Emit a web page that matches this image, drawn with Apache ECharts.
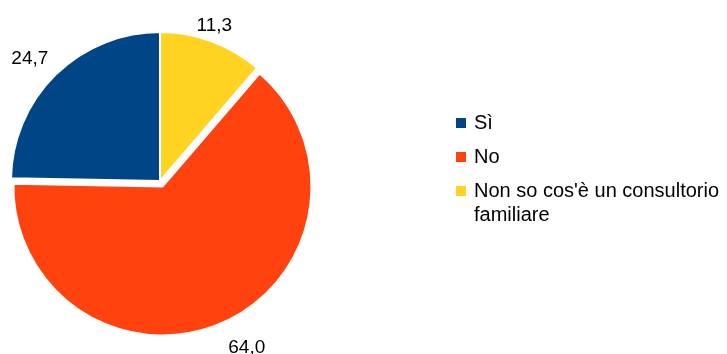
<!DOCTYPE html>
<html>
<head>
<meta charset="utf-8">
<style>
  html, body { margin: 0; padding: 0; background: #ffffff; }
  #chart { width: 727px; height: 354px; }
</style>
<script src="https://cdn.jsdelivr.net/npm/echarts@6/dist/echarts.min.js"></script>
</head>
<body>
<div id="chart"></div>
<script>
// Survey answers and their percentages
const categories = ['Sì', 'No', "Non so cos'è un consultorio familiare"];
const values = [24.7, 64.0, 11.3];
const colors = ['#004586', '#ff420e', '#ffd320'];

// Label distance beyond the rim and small nudges, per slice
const labelGap = [34, 28, 19];
const labelNudge = [[3, 8], [7, 0], [-9, 2]];

const FONT = '"Liberation Sans", Arial, sans-serif';

const fmt = v => v.toFixed(1).replace('.', ',');

// Word-wrap a legend entry so no line exceeds maxChars characters
function wrapWords(text, maxChars) {
  const lines = [];
  let line = '';
  text.split(' ').forEach(word => {
    if (line && (line + ' ' + word).length > maxChars) {
      lines.push(line);
      line = word;
    } else {
      line = line ? line + ' ' + word : word;
    }
  });
  if (line) lines.push(line);
  return lines.join('\n');
}

const chart = echarts.init(document.getElementById('chart'), null, { renderer: 'canvas' });

const legendText = { fontFamily: FONT, fontSize: 20, color: '#000000', lineHeight: 24, padding: [0, 0, 0, 3] };

const option = {
  backgroundColor: '#ffffff',
  animation: false,
  legend: [
    {
      orient: 'vertical',
      left: 456,
      top: 111,
      padding: 0,
      itemWidth: 10,
      itemHeight: 10,
      itemGap: 10,
      icon: 'rect',
      selectedMode: false,
      itemStyle: { borderWidth: 0 },
      data: categories.slice(0, 2),
      textStyle: legendText
    },
    {
      // the long answer wraps; a leading blank line keeps its marker beside the first line
      orient: 'vertical',
      left: 456,
      top: 155,
      padding: 0,
      itemWidth: 10,
      itemHeight: 10,
      icon: 'rect',
      selectedMode: false,
      itemStyle: { borderWidth: 0 },
      data: categories.slice(2),
      formatter: name => '\n' + wrapWords(name, 28),
      textStyle: legendText
    }
  ],
  series: [{
    type: 'pie',
    center: [160, 181],
    radius: 149,
    startAngle: 90,
    clockwise: false,
    selectedMode: 'single',
    selectedOffset: 6,
    avoidLabelOverlap: false,
    silent: true,
    itemStyle: { borderColor: '#ffffff', borderWidth: 2 },
    label: {
      show: true,
      position: 'outside',
      fontFamily: FONT,
      fontSize: 19,
      color: '#000000',
      formatter: p => fmt(p.value)
    },
    labelLine: { show: false, length2: 0 },
    labelLayout: p => ({
      align: 'center',
      dx: labelNudge[p.dataIndex][0],
      dy: labelNudge[p.dataIndex][1]
    }),
    data: categories.map((name, i) => ({
      name: name,
      value: values[i],
      selected: i === 1,
      itemStyle: { color: colors[i] },
      labelLine: { show: false, length: labelGap[i], length2: 0 }
    }))
  }]
};

chart.setOption(option);
</script>
</body>
</html>
